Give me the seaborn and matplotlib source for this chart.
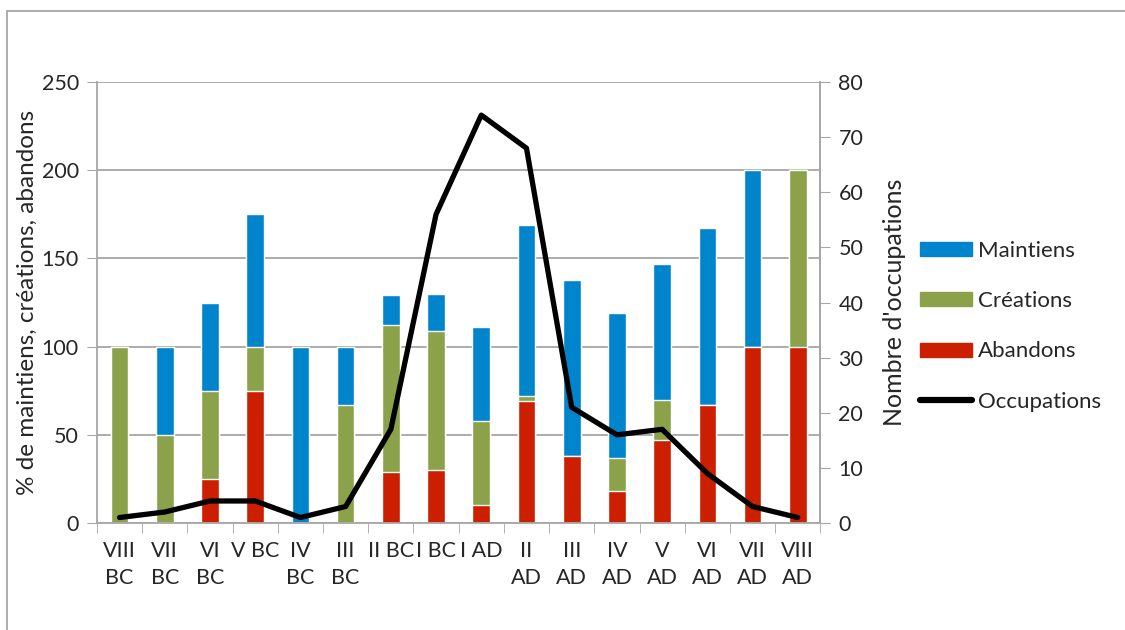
import numpy as np
import pandas as pd
import matplotlib
matplotlib.use("Agg")
import matplotlib.pyplot as plt
import seaborn as sns
from matplotlib.patches import Patch, Rectangle
from matplotlib.lines import Line2D

# data
periodes = ["VIII\nBC", "VII\nBC", "VI\nBC", "V BC", "IV\nBC", "III\nBC", "II BC", "I BC",
            "I AD", "II\nAD", "III\nAD", "IV\nAD", "V\nAD", "VI\nAD", "VII\nAD", "VIII\nAD"]
abandons = [0, 0, 25, 75, 0, 0, 29, 30, 10, 69, 38, 18, 47, 67, 100, 100]
creations = [100, 50, 50, 25, 0, 67, 83, 79, 48, 3, 0, 19, 23, 0, 0, 100]
maintiens = [0, 50, 50, 75, 100, 33, 17, 21, 53, 97, 100, 82, 77, 100, 100, 0]
occupations = [1, 2, 4, 4, 1, 3, 17, 56, 74, 68, 21, 16, 17, 9, 3, 1]

c_blue = "#0085CC"
c_green = "#8BA24A"
c_red = "#CC1F00"
c_axis = "#A6A6A6"

df = pd.DataFrame({"periode": periodes, "abandons": abandons,
                   "creations": creations, "maintiens": maintiens})
df["ac"] = df["abandons"] + df["creations"]
df["total"] = df["ac"] + df["maintiens"]

sns.set_style("white")
plt.rcParams["font.family"] = ["Lato", "DejaVu Sans"]

fig = plt.figure(figsize=(11.25, 6.3), dpi=100)
ax = fig.add_axes([0.0862, 0.1698, 0.643, 0.70])

# stacked bars: draw cumulative totals from the top down
sns.barplot(data=df, x="periode", y="total", color=c_blue, width=0.39,
            saturation=1, ax=ax, zorder=2)
sns.barplot(data=df, x="periode", y="ac", color=c_green, width=0.39,
            saturation=1, ax=ax, zorder=2)
sns.barplot(data=df, x="periode", y="abandons", color=c_red, width=0.39,
            saturation=1, ax=ax, zorder=2)

ax.set_ylim(0, 250)
ax.set_yticks(np.arange(0, 251, 50))
ax.set_xlim(-0.5, len(periodes) - 0.5)
ax.yaxis.grid(True, color=c_axis, linewidth=1.3, zorder=0)
ax.set_axisbelow(True)
ax.set_xlabel("")
ax.set_ylabel("% de maintiens, créations, abandons", fontsize=17.5, labelpad=3)
ax.tick_params(axis="y", labelsize=15.5, length=7, color=c_axis, direction="out", left=True, pad=6)
ax.tick_params(axis="x", labelsize=15.5, length=0, pad=13)
ax.set_xticks(range(len(periodes)))
ax.set_xticklabels(periodes, linespacing=1.45)
# ticks between categories on the x axis
ax.set_xticks(np.arange(-0.5, len(periodes)), minor=True)
ax.tick_params(axis="x", which="minor", length=7, color=c_axis, direction="out", bottom=True)
ax.spines["top"].set_visible(False)
for s in ["left", "bottom", "right"]:
    ax.spines[s].set_color(c_axis)
    ax.spines[s].set_linewidth(1.3)

ax2 = ax.twinx()
sns.lineplot(x=np.arange(len(periodes)), y=occupations, color="black",
             linewidth=3.8, ax=ax2, zorder=3)
ax2.set_ylim(0, 80)
ax2.set_yticks(np.arange(0, 81, 10))
ax2.set_ylabel("Nombre d'occupations", fontsize=18, labelpad=14)
ax2.tick_params(axis="y", labelsize=15.5, length=7, color=c_axis, direction="out", right=True, pad=6)
for s in ["top", "left", "bottom"]:
    ax2.spines[s].set_visible(False)
ax2.spines["right"].set_color(c_axis)
ax2.spines["right"].set_linewidth(1.3)

handles = [Patch(color=c_blue), Patch(color=c_green), Patch(color=c_red),
           Line2D([0], [0], color="black", linewidth=4.5)]
labels = ["Maintiens", "Créations", "Abandons", "Occupations"]
fig.legend(handles, labels, loc="center left", bbox_to_anchor=(0.8, 0.482),
           frameon=False, fontsize=16, handlelength=2.35, handleheight=0.6,
           labelspacing=1.36, handletextpad=0.25)

# outer chart border
fig.patches.append(Rectangle((7 / 1125, -0.01), 1.0, 1 - 11 / 630 + 0.01,
                             transform=fig.transFigure, fill=False,
                             edgecolor=c_axis, linewidth=1.3))

fig.savefig("out.png", dpi=100)
